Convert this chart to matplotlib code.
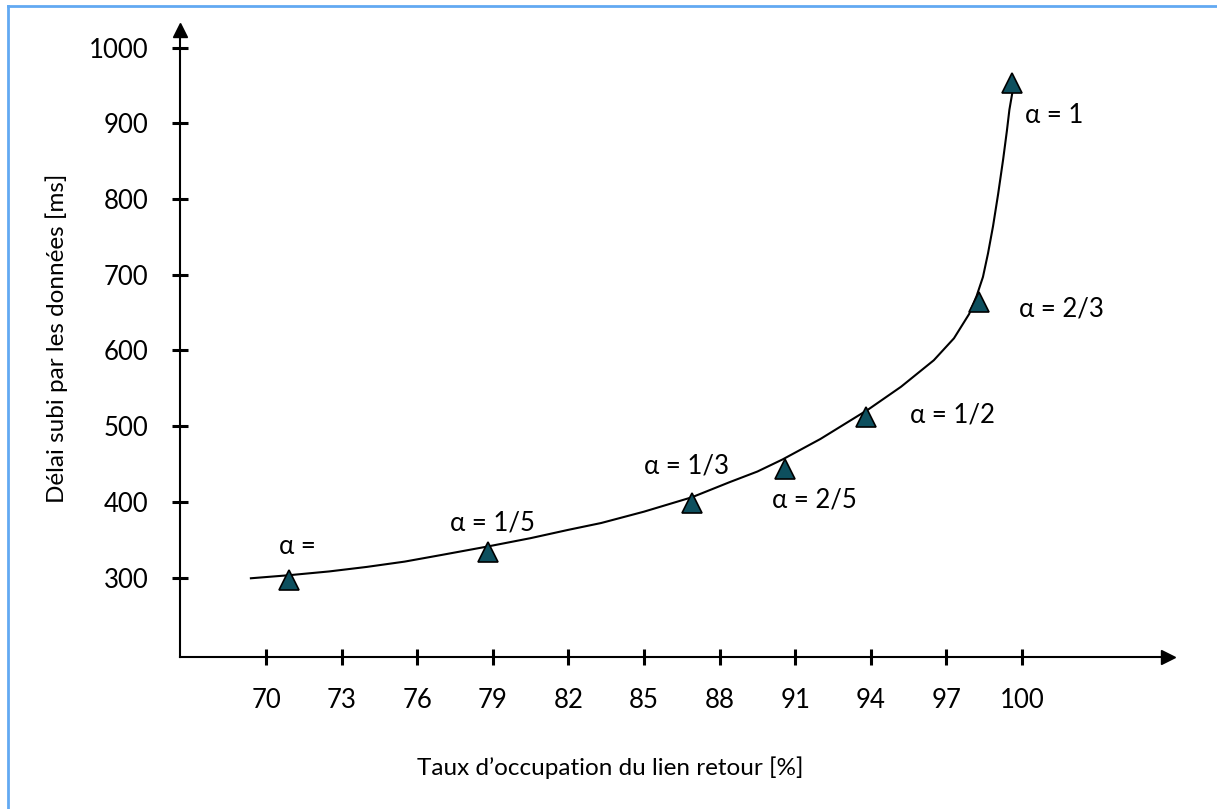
import matplotlib
matplotlib.use("Agg")
import matplotlib.pyplot as plt
from matplotlib.lines import Line2D

plt.rcParams['font.family'] = ['Lato', 'DejaVu Sans']

# points mesures (alpha)
alpha_labels = ['α =', 'α = 1/5', 'α = 1/3', 'α = 2/5', 'α = 1/2', 'α = 2/3', 'α = 1']
occupation = [70.9, 78.8, 86.9, 90.6, 93.8, 98.3, 99.6]
delai = [297, 334, 398, 444, 512, 664, 953]

# courbe de tendance
curve_x = [69.4, 70.9, 72.5, 74.0, 75.5, 77.0, 78.8, 80.5, 82.0, 83.3, 85.0, 86.9, 88.4, 89.5,
           90.5, 92.0, 93.9, 95.2, 96.5, 97.3, 97.9, 98.2, 98.45, 98.65, 98.85, 99.05, 99.25,
           99.4, 99.5, 99.64]
curve_y = [299, 303, 308, 314, 321, 330, 341, 352, 363, 372, 387, 406, 426, 440,
           456, 483, 522, 552, 587, 616, 648, 672, 697, 728, 764, 806, 852,
           890, 918, 945]

x_ticks = [70, 73, 76, 79, 82, 85, 88, 91, 94, 97, 100]
y_ticks = [300, 400, 500, 600, 700, 800, 900, 1000]

# label offsets in pixels (from marker centre to label left/centre)
label_offsets = [(-10, 33), (-38, 29), (-48, 37), (-13, -31), (44, 2), (40, -7), (13, -32)]

W, H = 1217, 809
fig = plt.figure(figsize=(W / 100, H / 100), dpi=100)
ax = fig.add_axes([0, 0, 1, 1])
ax.set_xlim(59.444, 107.738)
ax.set_ylim(-5.8, 1062.9)

x0, y0 = 66.6, 195   # where the two axes cross
x_end, y_end = 105.8, 1023

for s in ['top', 'right']:
    ax.spines[s].set_visible(False)
ax.spines['left'].set_position(('data', x0))
ax.spines['bottom'].set_position(('data', y0))
ax.spines['left'].set_bounds(y0, y_end)
ax.spines['bottom'].set_bounds(x0, x_end)
for s in ['left', 'bottom']:
    ax.spines[s].set_linewidth(1.5)

# arrow heads
ax.plot([x_end], [y0], marker='>', ms=10.5, color='black', clip_on=False)
ax.plot([x0], [y_end], marker='^', ms=10.5, color='black', clip_on=False)

ax.set_xticks(x_ticks)
ax.set_xticklabels([str(t) for t in x_ticks])
ax.set_yticks(y_ticks)
ax.set_yticklabels([str(t) for t in y_ticks])
ax.tick_params(axis='both', direction='inout', length=12, width=2.2, labelsize=18.5)
ax.tick_params(axis='x', pad=16)
ax.tick_params(axis='y', pad=17)

ax.plot(curve_x, curve_y, color='black', lw=1.5)
ax.plot(occupation, delai, ls='none', marker='^', ms=14.5, mfc='#0d4f5e', mec='black', mew=1.2)

for lab, x, y, off in zip(alpha_labels, occupation, delai, label_offsets):
    ax.annotate(lab, (x, y), xytext=off, textcoords='offset pixels',
                ha='left', va='center', fontsize=18.5)

fig.text(610 / W, 1 - 768 / H, 'Taux d\u2019occupation du lien retour [%]', ha='center', va='center', fontsize=17.5)
fig.text(57 / W, 1 - 338 / H, 'Délai subi par les données [ms]', ha='center', va='center',
         rotation=90, fontsize=17.5)

# light blue frame (left and top only)
bc = '#62a9f2'
fig.add_artist(Line2D([8 / W, 8 / W], [0, 1 - 6 / H], color=bc, lw=2))
fig.add_artist(Line2D([8 / W, 1], [1 - 6 / H, 1 - 6 / H], color=bc, lw=2))

fig.savefig('out.png', dpi=100)
